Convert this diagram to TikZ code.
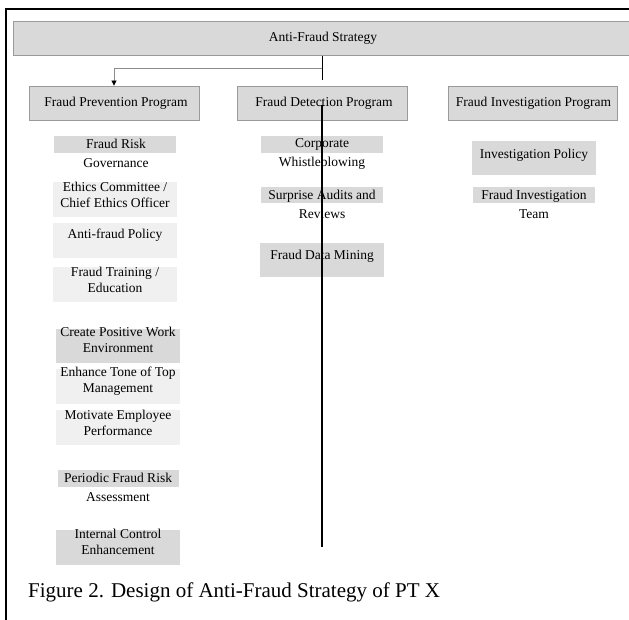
\documentclass[tikz,border=0pt]{standalone}
\usepackage{fontspec}
\setmainfont{Liberation Serif}
\usetikzlibrary{arrows.meta,calc}
\definecolor{darkfill}{HTML}{D9D9D9}
\definecolor{lightfill}{HTML}{F0F0F0}
\definecolor{edgegray}{HTML}{9A9A9A}
\definecolor{linkgray}{HTML}{8C8C8C}
\begin{document}
\begin{tikzpicture}[x=1bp,y=-1bp,
  txt/.style={font=\fontsize{13.5bp}{16bp}\selectfont, align=center, inner sep=0pt},
  bartxt/.style={font=\fontsize{13.5bp}{19bp}\selectfont, align=center, inner sep=0pt},
  prog/.style={draw=edgegray, fill=darkfill, line width=0.8bp, inner sep=0pt,
    minimum height=34bp, font=\fontsize{13.5bp}{16bp}\selectfont},
  darkbox/.style={fill=darkfill, inner sep=0pt},
  lightbox/.style={fill=lightfill, inner sep=0pt},
  frameline/.style={line width=2bp, black, line join=miter},
  conn/.style={line width=1bp, black},
  graylink/.style={line width=0.7bp, linkgray},
  longline/.style={line width=1.3bp, black}
]
\useasboundingbox (0,0) rectangle (629,620);
\clip (0,0) rectangle (629,620);

% frame
\draw[frameline] (6,620) -- (6,9) -- (629,9);

% top box
\node[prog, anchor=north west, minimum width=640bp] (top) at (13,21) {};
\node[txt] (toptxt) at (323,38) {Anti-Fraud Strategy};

% program boxes
\node[prog, minimum width=170bp] (prev) at (114,103) {\hspace{4bp}Fraud Prevention Program};
\node[prog, minimum width=170bp] (det) at (322,103.5) {\hspace{4bp}Fraud Detection Program};
\node[prog, minimum width=169bp] (inv) at (532.5,103) {\hspace{2bp}Fraud Investigation Program};

% connectors at top
\coordinate (jn) at (322,80);
\coordinate (hub) at (322,68);
\draw[graylink, -{Triangle[width=5bp,length=5bp,color=black]}] (hub) -| (prev.north);
\draw[conn] (top.south -| det.north) -- (jn);

% left column
\node[darkbox, minimum width=122bp, minimum height=17bp] (riskbar) at (115,144.5) {};
\node[bartxt] (risktxt) at (116,153) {Fraud Risk\\Governance};

\node[lightbox, minimum width=124bp, minimum height=35bp] (ethics) at (115,199.5) {};
\node[txt] (ethicstxt) at (115,195) {Ethics Committee /\\Chief Ethics Officer};

\node[lightbox, minimum width=124bp, minimum height=35bp] (policy) at (115,240.5) {};
\node[txt] (policytxt) at (115,235) {Anti-fraud Policy};

\node[lightbox, minimum width=124bp, minimum height=35bp] (training) at (115,284.5) {};
\node[txt] (trainingtxt) at (115,279.5) {Fraud Training /\\Education};

\node[darkbox, minimum width=124bp, minimum height=34bp] (create) at (118,346) {};
\node[txt] (createtxt) at (118,340) {Create Positive Work\\Environment};

\node[lightbox, minimum width=124bp, minimum height=35bp] (tone) at (118,386.5) {};
\node[txt] (tonetxt) at (118,381.5) {Enhance Tone of Top\\Management};

\node[lightbox, minimum width=124bp, minimum height=35bp] (motiv) at (118,427.5) {};
\node[txt] (motivtxt) at (118,423) {Motivate Employee\\Performance};

\node[darkbox, minimum width=121bp, minimum height=17bp] (periodbar) at (118.5,478.5) {};
\node[bartxt] (periodtxt) at (118,487.5) {Periodic Fraud Risk\\Assessment};

\node[darkbox, minimum width=124bp, minimum height=35bp] (internal) at (118,547.5) {};
\node[txt] (internaltxt) at (118,541.5) {Internal Control\\Enhancement};

% middle column
\node[darkbox, minimum width=122bp, minimum height=17bp] (corpbar) at (322,144.5) {};
\node[bartxt] (corptxt) at (322,153.5) {Corporate\\Whistleblowing};

\node[darkbox, minimum width=122bp, minimum height=16bp] (surpbar) at (322,195) {};
\node[bartxt] (surptxt) at (322,204.5) {Surprise Audits and\\Reviews};

\node[darkbox, minimum width=124bp, minimum height=34bp] (mining) at (322,260) {};
\node[txt] (miningtxt) at (322,256) {Fraud Data Mining};

% right column
\node[darkbox, minimum width=124bp, minimum height=34bp] (invpol) at (534,158) {};
\node[txt] (invpoltxt) at (534,155) {Investigation Policy};

\node[darkbox, minimum width=122bp, minimum height=16bp] (teambar) at (534,195) {};
\node[bartxt] (teamtxt) at (534,204.5) {Fraud Investigation\\Team};

% long vertical line
\coordinate (vtop) at (322,105);
\coordinate (vbot) at (322,547);
\draw[longline] (vtop) -- (vbot);

% caption
\node[anchor=west, inner sep=0pt, font=\fontsize{21bp}{24bp}\selectfont] (cap) at (28,592) {Figure 2. Design of Anti-Fraud Strategy of PT X};
\end{tikzpicture}
\end{document}
